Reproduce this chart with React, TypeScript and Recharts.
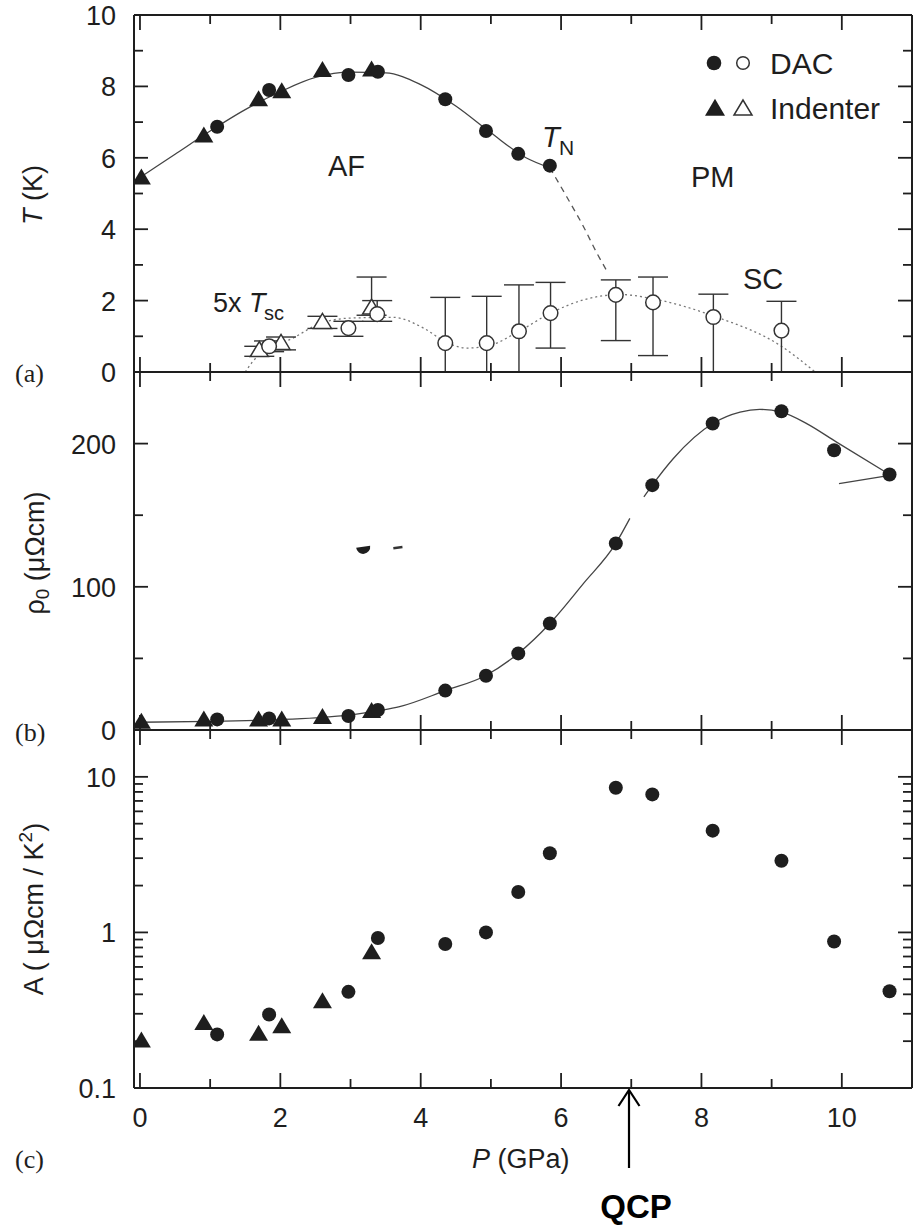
import { ComposedChart, Scatter, Line, XAxis, YAxis, ErrorBar } from 'recharts'

const W = 923
const H = 1232
const INK = '#1e1e1e'
const FONT = '"Liberation Sans", Arial, Helvetica, sans-serif'

// shared pressure axis (GPa)
const pDomain = [-0.085, 11.0]
const pTicks = [0, 1, 2, 3, 4, 5, 6, 7, 8, 9, 10]

// DAC, filled circles
const dacP = [1.10, 1.84, 2.97, 3.39, 4.35, 4.93, 5.39, 5.84, 6.78, 7.30, 8.16, 9.14, 9.89, 10.68]
const dacTN = [6.87, 7.90, 8.32, 8.41, 7.64, 6.75, 6.11, 5.78]
const dacRho = [7.4, 8.1, 9.8, 14.0, 27.5, 37.9, 53.5, 74.4, 130.3, 171, 214, 222.6, 195.4, 178.4]
const dacA = [0.221, 0.297, 0.415, 0.92, 0.843, 1.0, 1.82, 3.23, 8.5, 7.71, 4.51, 2.89, 0.875, 0.419]

// Indenter, filled triangles
const indP = [0.02, 0.91, 1.69, 2.02, 2.60, 3.30]
const indTN = [5.43, 6.61, 7.62, 7.85, 8.44, 8.46]
const indRho = [5.4, 7.0, 7.0, 7.0, 8.6, 12.8]
const indA = [0.200, 0.259, 0.221, 0.247, 0.358, 0.738]

// 5x Tsc, open symbols with error bars (lower / upper)
const scDacP = [1.84, 2.97, 3.38, 4.35, 4.94, 5.40, 5.85, 6.78, 7.31, 8.17, 9.14]
const scDacT = [0.72, 1.23, 1.62, 0.81, 0.81, 1.14, 1.65, 2.16, 1.95, 1.54, 1.16]
const scDacLo = [0.15, 0.23, 0.2, 0.81, 0.81, 1.14, 0.98, 1.28, 1.49, 1.54, 1.16]
const scDacHi = [0.15, 0.19, 0.38, 1.28, 1.31, 1.30, 0.86, 0.42, 0.71, 0.64, 0.82]
const scIndP = [1.70, 2.01, 2.60, 3.30]
const scIndT = [0.60, 0.80, 1.39, 1.79]
const scIndLo = [0.16, 0.18, 0.17, 0.2]
const scIndHi = [0.12, 0.18, 0.17, 0.87]

// guide curves
const tnFitP = [0, 0.5, 1.0, 1.5, 2.0, 2.5, 3.0, 3.5, 4.0, 4.5, 5.0, 5.5, 5.84]
const tnFitT = [5.45, 6.1, 6.75, 7.35, 7.85, 8.25, 8.4, 8.38, 8.05, 7.45, 6.7, 6.0, 5.72]
const tnDashP = [5.84, 6.08, 6.32, 6.51, 6.65]
const tnDashT = [5.72, 4.91, 4.07, 3.33, 2.84]
const scFitP = [1.50, 1.61, 1.80, 2.18, 2.52, 2.99, 3.61, 4.04, 4.35, 4.65, 4.94, 5.40, 5.85, 6.32, 6.85, 7.31, 8.17, 9.14, 9.62]
const scFitT = [0, 0.30, 0.62, 0.95, 1.32, 1.51, 1.53, 1.23, 0.85, 0.67, 0.72, 1.14, 1.65, 2.02, 2.17, 2.05, 1.57, 0.72, 0]
const rhoFitP1 = [0, 1, 2, 2.5, 3.0, 3.4, 3.7, 4.35, 4.92, 5.39, 5.84, 6.32, 6.78, 6.98]
const rhoFitR1 = [5.4, 6.0, 7.3, 8.5, 10.5, 13.5, 16.3, 27.5, 37.9, 53.5, 74.4, 102.4, 130.3, 147.8]
const rhoFitP2 = [7.18, 7.30, 7.60, 8.16, 8.55, 8.83, 9.14, 9.50, 9.92, 10.68]
const rhoFitR2 = [162.8, 171, 189.6, 214, 222, 223.9, 222, 214, 201.2, 178.4]
const rhoStrayP = [9.96, 10.64]
const rhoStrayR = [172, 177.5]
const rhoBitP = [3.61, 3.74]
const rhoBitR = [127, 127.8]
const rhoCutP = [3.18]
const rhoCutR = [126.5]

const tTicks = [0, 1, 2, 3, 4, 5, 6, 7, 8, 9, 10]
const rhoTicks = [0, 50, 100, 150, 200, 250]
const aTicks = [0.1, 0.2, 0.3, 0.4, 0.5, 0.6, 0.7, 0.8, 0.9, 1, 2, 3, 4, 5, 6, 7, 8, 9, 10, 20]

const pts = (xs: number[], ys: number[]) => ys.map((y, i) => ({ P: xs[i], y }))
const ptsErr = (xs: number[], ys: number[], lo: number[], hi: number[]) =>
  ys.map((y, i) => ({ P: xs[i], y, err: [lo[i], hi[i]] }))

const FilledCircle = (p: any) => <circle cx={p.cx} cy={p.cy} r={7} fill={INK} />
const OpenCircle = (p: any) => (
  <circle cx={p.cx} cy={p.cy} r={7.3} fill="#fff" stroke="#333" strokeWidth={1.5} />
)
const triPts = (cx: number, cy: number, w: number, h: number) =>
  `${cx},${cy - h * 0.6} ${cx - w / 2},${cy + h * 0.4} ${cx + w / 2},${cy + h * 0.4}`
const FilledTri = (p: any) => <polygon points={triPts(p.cx, p.cy, 19, 16)} fill={INK} />
const OpenTri = (p: any) => (
  <polygon points={triPts(p.cx, p.cy, 18, 15)} fill="#fff" stroke="#333" strokeWidth={1.5} />
)
const HalfDot = (p: any) => (
  <path d={`M${p.cx - 7},${p.cy - 1} A7,7 0 0,0 ${p.cx + 7},${p.cy - 3} Z`} fill={INK} />
)

const tickText = { fontFamily: FONT, fontSize: 27, fill: INK }

const xTick = (side: 'bottom' | 'top', labels: boolean) => (p: any) => {
  const v = p.payload.value
  const major = v % 2 === 0
  const len = major ? 15 : 9
  const dir = side === 'bottom' ? -1 : 1
  return (
    <g>
      <line x1={p.x} x2={p.x} y1={p.y} y2={p.y + dir * len} stroke={INK} strokeWidth={1.8} />
      {labels && major && side === 'bottom' && (
        <text x={p.x} y={p.y + 39} textAnchor="middle" {...tickText}>{v}</text>
      )}
    </g>
  )
}

const yTick = (side: 'left' | 'right', isMajor: (v: number) => boolean, fmt?: (v: number) => string) => (p: any) => {
  const v = p.payload.value
  const major = isMajor(v)
  const len = major ? 14 : 9
  const dir = side === 'left' ? 1 : -1
  return (
    <g>
      <line x1={p.x} x2={p.x + dir * len} y1={p.y} y2={p.y} stroke={INK} strokeWidth={1.8} />
      {fmt && major && side === 'left' && (
        <text x={p.x - 18} y={p.y + 10} textAnchor="end" {...tickText}>{fmt(v)}</text>
      )}
    </g>
  )
}

const axisLine = { stroke: INK, strokeWidth: 2 }

function frameAxes(opts: {
  domain: number[]
  ticks: number[]
  isMajor: (v: number) => boolean
  fmt: (v: number) => string
  log?: boolean
  xLabels: boolean
}) {
  const { domain, ticks, isMajor, fmt, log, xLabels } = opts
  return [
    <XAxis key="xb" xAxisId="b" dataKey="P" type="number" domain={pDomain} allowDataOverflow ticks={pTicks}
      interval={0} height={1} tickSize={0} tickMargin={0} tickLine={false} axisLine={axisLine}
      tick={xTick('bottom', xLabels)} />,
    <XAxis key="xt" xAxisId="t" orientation="top" dataKey="P" type="number" domain={pDomain} allowDataOverflow
      ticks={pTicks} interval={0} height={1} tickSize={0} tickMargin={0} tickLine={false} axisLine={axisLine}
      tick={xTick('top', false)} />,
    <YAxis key="yl" yAxisId="l" dataKey="y" type="number" scale={log ? 'log' : 'auto'} domain={domain}
      allowDataOverflow ticks={ticks} interval={0} width={1} tickSize={0} tickMargin={0} tickLine={false}
      axisLine={axisLine} tick={yTick('left', isMajor, fmt)} />,
    <YAxis key="yr" yAxisId="r" orientation="right" type="number" scale={log ? 'log' : 'auto'} domain={domain}
      allowDataOverflow ticks={ticks} interval={0} width={1} tickSize={0} tickMargin={0} tickLine={false}
      axisLine={axisLine} tick={yTick('right', isMajor)} />,
  ]
}

// plot box spans x 134..912; axes take 1px each
const marginFor = (top: number, bottom: number) => ({ top: top - 1, right: 10, bottom: H - bottom - 1, left: 133 })

const ax = { xAxisId: 'b', yAxisId: 'l', isAnimationActive: false } as const

function PanelA() {
  return (
    <ComposedChart width={W} height={H} margin={marginFor(15, 372)}>
      {frameAxes({ domain: [0, 10], ticks: tTicks, isMajor: (v) => v % 2 === 0, fmt: (v) => String(v), xLabels: false })}
      <Line {...ax} data={pts(tnFitP, tnFitT)} dataKey="y" type="monotone" dot={false} stroke="#444" strokeWidth={1.3} />
      <Line {...ax} data={pts(tnDashP, tnDashT)} dataKey="y" type="monotone" dot={false} stroke="#555"
        strokeWidth={1.3} strokeDasharray="6 5" />
      <Line {...ax} data={pts(scFitP, scFitT)} dataKey="y" type="monotone" dot={false} stroke="#777"
        strokeWidth={1.3} strokeDasharray="2 3" />
      <Scatter {...ax} data={ptsErr(scIndP, scIndT, scIndLo, scIndHi)} dataKey="y" shape={OpenTri}>
        <ErrorBar dataKey="err" direction="y" width={15} stroke="#333" strokeWidth={1.4} />
      </Scatter>
      <Scatter {...ax} data={ptsErr(scDacP, scDacT, scDacLo, scDacHi)} dataKey="y" shape={OpenCircle}>
        <ErrorBar dataKey="err" direction="y" width={15} stroke="#333" strokeWidth={1.4} />
      </Scatter>
      <Scatter {...ax} data={pts(indP, indTN)} dataKey="y" shape={FilledTri} />
      <Scatter {...ax} data={pts(dacP, dacTN)} dataKey="y" shape={FilledCircle} />
    </ComposedChart>
  )
}

function PanelB() {
  return (
    <ComposedChart width={W} height={H} margin={marginFor(372, 730)}>
      {frameAxes({ domain: [0, 250], ticks: rhoTicks, isMajor: (v) => v % 100 === 0, fmt: (v) => String(v), xLabels: false })}
      <Line {...ax} data={pts(rhoFitP1, rhoFitR1)} dataKey="y" type="monotone" dot={false} stroke="#444" strokeWidth={1.3} />
      <Line {...ax} data={pts(rhoFitP2, rhoFitR2)} dataKey="y" type="monotone" dot={false} stroke="#444" strokeWidth={1.3} />
      <Line {...ax} data={pts(rhoStrayP, rhoStrayR)} dataKey="y" type="linear" dot={false} stroke="#444" strokeWidth={1.3} />
      <Line {...ax} data={pts(rhoBitP, rhoBitR)} dataKey="y" type="linear" dot={false} stroke="#333" strokeWidth={2.5} />
      <Scatter {...ax} data={pts(rhoCutP, rhoCutR)} dataKey="y" shape={HalfDot} />
      <Scatter {...ax} data={pts(indP, indRho)} dataKey="y" shape={FilledTri} />
      <Scatter {...ax} data={pts(dacP, dacRho)} dataKey="y" shape={FilledCircle} />
    </ComposedChart>
  )
}

function PanelC() {
  return (
    <ComposedChart width={W} height={H} margin={marginFor(730, 1088)}>
      {frameAxes({
        domain: [0.1, 20], ticks: aTicks, log: true,
        isMajor: (v) => v === 0.1 || v === 1 || v === 10, fmt: (v) => String(v), xLabels: true,
      })}
      <Scatter {...ax} data={pts(indP, indA)} dataKey="y" shape={FilledTri} />
      <Scatter {...ax} data={pts(dacP, dacA)} dataKey="y" shape={FilledCircle} />
    </ComposedChart>
  )
}

function Overlay() {
  return (
    <svg width={W} height={H} style={{ position: 'absolute', left: 0, top: 0 }} fontFamily={FONT} fill={INK}>
      {/* axis titles */}
      <text transform="translate(42,195) rotate(-90)" textAnchor="middle" fontSize={27}>
        <tspan fontStyle="italic">T</tspan> (K)
      </text>
      <text transform="translate(44,553) rotate(-90)" textAnchor="middle" fontSize={27}>
        ρ<tspan fontSize={19} dy={5}>0</tspan><tspan dy={-5}> (μΩcm)</tspan>
      </text>
      <text transform="translate(43,909) rotate(-90)" textAnchor="middle" fontSize={27}>
        A ( μΩcm / K<tspan fontSize={19} dy={-11}>2</tspan><tspan dy={11}>)</tspan>
      </text>
      <text x={472} y={1168} fontSize={27}>
        <tspan fontStyle="italic">P</tspan> (GPa)
      </text>

      {/* panel letters */}
      <text x={15} y={382} fontSize={26} fontFamily='"Liberation Serif", "Times New Roman", serif'>(a)</text>
      <text x={15} y={741} fontSize={26} fontFamily='"Liberation Serif", "Times New Roman", serif'>(b)</text>
      <text x={15} y={1168} fontSize={26} fontFamily='"Liberation Serif", "Times New Roman", serif'>(c)</text>

      {/* region labels */}
      <text x={328} y={176} fontSize={29}>AF</text>
      <text x={691} y={187} fontSize={29}>PM</text>
      <text x={743} y={289} fontSize={29}>SC</text>
      <text x={542} y={147} fontSize={29} fontStyle="italic">T</text>
      <text x={559} y={155} fontSize={21}>N</text>
      <text x={213} y={312} fontSize={27}>5x <tspan fontStyle="italic">T</tspan></text>
      <text x={264} y={320} fontSize={20}>sc</text>

      {/* legend */}
      <circle cx={714} cy={63} r={7.3} fill={INK} />
      <circle cx={743} cy={63} r={6.3} fill="#fff" stroke="#333" strokeWidth={1.5} />
      <text x={770} y={74} fontSize={30}>DAC</text>
      <polygon points={triPts(715, 109, 20, 17)} fill={INK} />
      <polygon points={triPts(743, 109, 18, 15)} fill="#fff" stroke="#333" strokeWidth={1.5} />
      <text x={770} y={119} fontSize={30}>Indenter</text>

      {/* QCP marker */}
      <line x1={629} x2={629} y1={1168} y2={1091} stroke="#000" strokeWidth={2.2} />
      <polyline points="618.5,1106 629,1090 639.5,1106" fill="none" stroke="#000" strokeWidth={2.2} />
      <text x={636} y={1218} textAnchor="middle" fontSize={33} fontWeight="bold" fill="#000">QCP</text>
    </svg>
  )
}

export default function App() {
  return (
    <div style={{ position: 'absolute', left: 0, top: 0, width: W, height: H, background: '#fff' }}>
      <div style={{ position: 'absolute', left: 0, top: 0 }}><PanelA /></div>
      <div style={{ position: 'absolute', left: 0, top: 0 }}><PanelB /></div>
      <div style={{ position: 'absolute', left: 0, top: 0 }}><PanelC /></div>
      <Overlay />
    </div>
  )
}
